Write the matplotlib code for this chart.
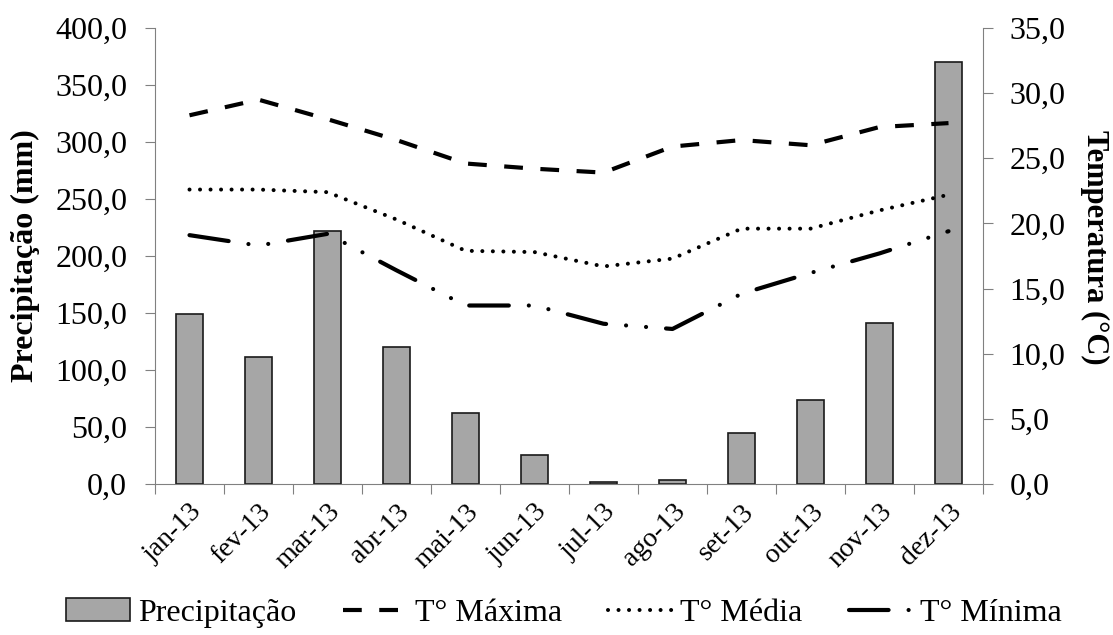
import numpy as np
import matplotlib
matplotlib.use("Agg")
import matplotlib.pyplot as plt

MONTHS = ["jan-13", "fev-13", "mar-13", "abr-13", "mai-13", "jun-13",
          "jul-13", "ago-13", "set-13", "out-13", "nov-13", "dez-13"]
PRECIP = [149.0, 111.0, 222.0, 120.0, 62.0, 25.5, 2.0, 3.5, 45.0, 74.0, 141.0, 370.0]
T_MAX = [28.3, 29.5, 28.0, 26.4, 24.6, 24.2, 23.9, 25.9, 26.4, 26.0, 27.4, 27.7]
T_MED = [22.6, 22.6, 22.4, 20.3, 17.9, 17.8, 16.7, 17.3, 19.6, 19.6, 21.0, 22.2]
T_MIN = [19.1, 18.3, 19.2, 16.4, 13.7, 13.7, 12.3, 11.9, 14.6, 16.2, 17.7, 19.4]


def fmt(v, _pos=None):
    return f"{v:.1f}".replace(".", ",")


def main():
    plt.rcParams["font.family"] = ["Liberation Serif", "DejaVu Serif"]
    fig = plt.figure(figsize=(11.13, 6.35), dpi=100)
    ax = fig.add_axes([155 / 1113, 1 - 484 / 635, 828 / 1113, 456 / 635])
    ax2 = ax.twinx()

    x = np.arange(len(MONTHS))
    bars = ax.bar(x, PRECIP, width=0.39, color="#a6a6a6", edgecolor="#1a1a1a",
                  linewidth=1.2, label="Precipitação", zorder=2)

    lw = 3.0
    l1, = ax2.plot(x, T_MAX, color="black", lw=lw, dashes=(4.5, 4.2),
                   label="T° Máxima", solid_capstyle="butt")
    l2, = ax2.plot(x, T_MED, color="black", lw=2.9, dashes=(0.01, 2.6),
                   dash_capstyle="round", label="T° Média")
    l3, = ax2.plot(x, T_MIN, color="black", lw=lw, dashes=(9.5, 4.8, 0.01, 4.8, 0.01, 4.8),
                   dash_capstyle="round", label="T° Mínima")

    ax.set_xlim(-0.5, len(MONTHS) - 0.5)
    ax.set_ylim(0, 400)
    ax2.set_ylim(0, 35)
    ax.set_yticks(np.arange(0, 401, 50))
    ax2.set_yticks(np.arange(0, 35.1, 5))
    ax.yaxis.set_major_formatter(plt.FuncFormatter(fmt))
    ax2.yaxis.set_major_formatter(plt.FuncFormatter(fmt))

    ax.set_xticks(np.arange(-0.5, len(MONTHS), 1.0))
    ax.set_xticklabels([])
    ax.set_xticks(x, minor=True)
    ax.set_xticklabels(MONTHS, minor=True, rotation=45, ha="right",
                       rotation_mode="anchor", fontsize=20)
    ax.tick_params(axis="x", which="minor", length=0, pad=11)
    ax.tick_params(axis="x", which="major", length=7, color="#808080")

    ax.tick_params(axis="y", labelsize=23, length=7, pad=13, color="#808080")
    ax2.tick_params(axis="y", labelsize=23, length=7, pad=12, color="#808080")
    for a in (ax, ax2):
        a.spines["top"].set_visible(False)
        for s in ("left", "right", "bottom"):
            a.spines[s].set_color("#808080")
    ax.spines["right"].set_visible(False)
    ax2.spines["left"].set_visible(False)
    ax2.spines["bottom"].set_visible(False)

    # axis titles placed where the reference has them
    fig.text(25 / 1113, 1 - 256 / 635, "Precipitação (mm)", fontsize=23,
             fontweight="bold", rotation=90, ha="center", va="center")
    fig.text(1095 / 1113, 1 - 247 / 635, "Temperatura (°C)", fontsize=22,
             fontweight="bold", rotation=270, ha="center", va="center")

    fig.legend([bars, l1, l2, l3], ["Precipitação", "T° Máxima", "T° Média", "T° Mínima"],
               loc="lower center", bbox_to_anchor=(0.507, -0.034), ncol=4, frameon=False,
               fontsize=23, handlelength=2.0, columnspacing=1.45, handletextpad=0.25)

    fig.savefig("out.png", dpi=100)


if __name__ == "__main__":
    main()
